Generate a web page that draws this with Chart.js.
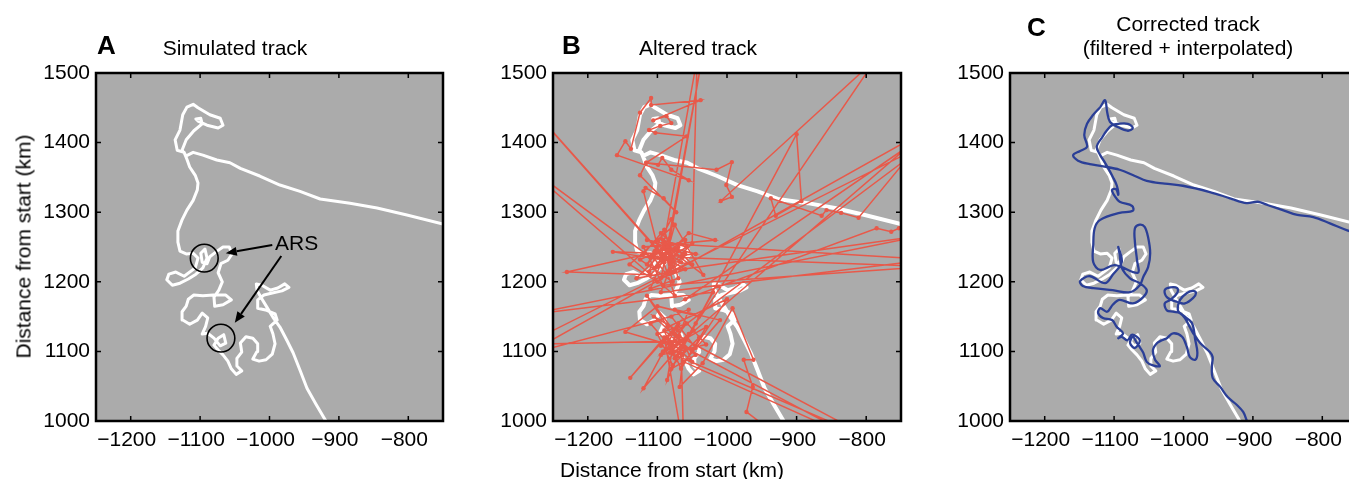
<!DOCTYPE html>
<html>
<head>
<meta charset="utf-8">
<script src="https://cdn.jsdelivr.net/npm/chart.js@4.4.0/dist/chart.umd.min.js"></script>
<style>
html, body { margin: 0; padding: 0; background: #fff; overflow: hidden; }
body { width: 1349px; height: 479px; position: relative; font-family: 'Liberation Sans', Arial, Helvetica, sans-serif; color: #000; }
.panel { position: absolute; top: 0; width: 460px; height: 479px; }
.txt { position: absolute; font-size: 21px; line-height: 21px; white-space: nowrap; text-align: center; }
.letter { position: absolute; font-size: 26px; line-height: 26px; font-weight: bold; }
</style>
</head>
<body>
<div class="panel" style="left:0px"><canvas id="chartA" width="460" height="479"></canvas></div>
<div class="panel" style="left:460px"><canvas id="chartB" width="460" height="479"></canvas></div>
<div class="panel" style="left:920px"><canvas id="chartC" width="460" height="479"></canvas></div>

<div class="letter" style="left:97px;top:32px">A</div>
<div class="txt" style="left:135px;top:37px;width:200px">Simulated track</div>
<div class="letter" style="left:562px;top:32px">B</div>
<div class="txt" style="left:598px;top:37px;width:200px">Altered track</div>
<div class="letter" style="left:1027px;top:14px">C</div>
<div class="txt" style="left:1038px;top:13px;width:300px">Corrected track</div>
<div class="txt" style="left:1038px;top:37px;width:300px">(filtered + interpolated)</div>
<div class="txt" style="left:522px;top:459px;width:300px">Distance from start (km)</div>
<div class="txt" style="left:-127px;top:236px;width:300px;transform:rotate(-90deg)">Distance from start (km)</div>

<script>
// axis ticks (km)
var xTicks = [-1200, -1100, -1000, -900, -800];
var xTickLabels = ['\u22121200', '\u22121100', '\u22121000', '\u2212900', '\u2212800'];
var yTicks = [1000, 1100, 1200, 1300, 1400, 1500];
var yTickLabels = ['1000', '1100', '1200', '1300', '1400', '1500'];

// simulated track (white), km
var trackX = [-914, -933, -946, -956, -966, -975, -985, -995, -1004, -1012, -1018, -1019, -1011, -999, -988, -978, -972, -982, -996, -1008,
  -1017, -1017, -1004, -992, -989, -999, -995, -992, -996, -1005, -1015, -1024, -1018, -1017, -1024, -1034, -1042, -1040, -1047, -1047,
  -1040, -1048, -1055, -1060, -1067, -1074, -1080, -1074, -1066, -1063, -1071, -1080, -1089, -1097, -1092, -1089, -1097, -1104, -1115, -1125,
  -1126, -1120, -1117, -1109, -1096, -1081, -1063, -1055, -1067, -1079, -1080, -1073, -1068, -1074, -1070, -1060, -1054, -1058, -1067, -1077,
  -1086, -1090, -1097, -1099, -1093, -1090, -1096, -1106, -1117, -1129, -1140, -1148, -1145, -1135, -1123, -1107, -1103, -1110, -1120, -1129,
  -1132, -1132, -1126, -1119, -1110, -1104, -1103, -1107, -1115, -1119, -1123, -1133, -1136, -1129, -1125, -1119, -1110, -1103, -1086, -1071,
  -1067, -1074, -1090, -1103, -1106, -1099, -1097, -1109, -1120, -1126, -1120, -1110, -1096, -1076, -1057, -1042, -1014, -985, -956, -927,
  -884, -845, -802, -750, -740];
var trackY = [992, 1024, 1047, 1073, 1098, 1116, 1135, 1149, 1164, 1177, 1188, 1197, 1195, 1188, 1191, 1197, 1192, 1187, 1184, 1181,
  1174, 1162, 1159, 1154, 1145, 1136, 1125, 1111, 1096, 1088, 1086, 1089, 1100, 1111, 1119, 1121, 1112, 1099, 1090, 1079,
  1072, 1067, 1075, 1086, 1095, 1102, 1109, 1119, 1124, 1112, 1108, 1119, 1126, 1125, 1136, 1148, 1155, 1145, 1139, 1145,
  1157, 1165, 1175, 1181, 1180, 1181, 1181, 1174, 1167, 1165, 1178, 1188, 1200, 1213, 1226, 1231, 1240, 1250, 1250, 1243,
  1236, 1226, 1228, 1241, 1247, 1234, 1220, 1211, 1204, 1198, 1195, 1203, 1211, 1214, 1208, 1220, 1234, 1241, 1240, 1244,
  1257, 1273, 1289, 1303, 1317, 1332, 1342, 1353, 1365, 1376, 1386, 1389, 1404, 1418, 1440, 1451, 1455, 1450, 1440, 1435,
  1425, 1421, 1425, 1431, 1434, 1435, 1427, 1417, 1404, 1389, 1381, 1386, 1382, 1375, 1371, 1363, 1352, 1339, 1330, 1319,
  1313, 1306, 1296, 1283, 1281];

// altered track (red), km; points outside the box are the outliers
var alteredX = [-935, -972, -963, -976, -962, -992, -1035, -1068, -1060, -1086, -1075, -780, -1082, -1048, -1120, -1070, -1139, -1090, -1062, -1066,
  -1040, -1100, -1146, -1078,
  -1068, -1080, -1055, -1075, -1090, -1060, -1085, -1050, -1072, -1095, -1065, -1040, -1078, -1100, -1058, -1082, -1066, -1030, -1092, -1070,
  -1055, -1110, -1075, -1045, -1080,
  -1290, -710, -1058, -1095, -1030, -1075, -1010, -1062, -795, -1050, -1000, -1085, -1115, -1065, -1290, -710,
  -1071, -1105, -1045, -1080, -1020, -1290, -710, -1085,
  -1080, -1100, -1072, -1108, -1088, -1066, -1098, -1115, -1083, -1095, -1060, -1104, -1077, -1120, -1090, -1070, -1110, -1085, -1045, -1100,
  -1130, -1075, -1092, -1058, -1112,
  -1100, -1060, -1125, -1078, -1095, -1050, -1164, -1080, -1110, -1230, -1070, -1095,
  -710, -1088, -1115, -1060, -1100, -1140, -1075, -1090, -1036, -1085, -1105, -1055, -1017, -1120, -1092, -710, -1065, -1100, -1034, -1080,
  -1110, -1305, -1075, -1095, -1290, -1080, -1050, -1043, -1095, -1120, -1117, -1091, -1073, -1125, -1116, -1099, -1093, -1080, -1055, -1158,
  -1146, -1138, -1125, -1109, -1109, -1038, -1106, -1087, -1080, -1096, -1112, -1103, -1058, -1116, -1015, -993, -1001, -993, -1009, -786,
  -1045, -900, -893, -930, -937, -864, -857, -836, -811, -710, -1060, -785, -764, -753, -700];
var alteredY = [985, 1013, 1049, 1088, 1088, 1162, 1083, 1049, 1118, 1059, 1125, 968, 1098, 1130, 1047, 1140, 1062, 1120, 958, 1105,
  1150, 1165, 1128, 1108,
  1115, 1100, 1125, 1090, 1130, 1105, 1118, 1085, 1135, 1108, 1095, 1120, 1080, 1125, 1140, 1110, 1075, 1135, 1100, 1120,
  1160, 1140, 1100, 1105, 1150,
  1095, 1420, 1120, 1095, 1110, 1160, 1145, 1085, 965, 1100, 1175, 1135, 1180, 1115, 1110, 1400,
  1130, 1150, 1095, 1075, 1185, 1152, 1268, 1215,
  1235, 1222, 1246, 1238, 1212, 1228, 1252, 1225, 1262, 1205, 1218, 1244, 1230, 1240, 1275, 1205, 1190, 1250, 1240, 1235,
  1205, 1215, 1260, 1250, 1215,
  1245, 1260, 1232, 1200, 1270, 1225, 1243, 1240, 1210, 1214, 1250, 1185,
  1232, 1255, 1260, 1240, 1200, 1225, 1282, 1228, 1520, 1245, 1220, 1270, 1260, 1250, 1195, 1222, 1235, 1260, 1210, 1290,
  1235, 1379, 1180, 1240, 1460, 1225, 1255, 1520, 1232, 1330, 1335, 1320, 1300, 1353, 1371, 1368, 1378, 1361, 1346, 1382,
  1402, 1391, 1443, 1464, 1454, 1461, 1432, 1438, 1428, 1424, 1418, 1414, 1409, 1371, 1361, 1372, 1339, 1322, 1316, 1520,
  1140, 1412, 1316, 1295, 1320, 1295, 1303, 1299, 1292, 1415, 1175, 1277, 1272, 1277, 1275];

// corrected track (blue), km
var correctedX = [-904, -909, -914, -923, -936, -947, -958, -959, -958, -962, -976, -986, -991, -998, -1005, -1015, -1024, -1027, -1019, -1009,
  -1009, -1019, -1027, -1024, -1009, -998, -986, -982, -986, -995, -1005, -1008, -1001, -988, -983, -980, -983, -991, -995, -1002,
  -1015, -1024, -1031, -1038, -1044, -1041, -1034, -1044, -1053, -1058, -1063, -1067, -1073, -1077, -1070, -1063, -1074, -1081, -1089, -1094,
  -1087, -1096, -1103, -1116, -1123, -1120, -1110, -1102, -1092, -1073, -1058, -1053, -1063, -1077, -1089, -1092, -1094, -1089, -1102, -1113,
  -1135, -1149, -1145, -1130, -1102, -1077, -1063, -1058, -1051, -1048, -1051, -1056, -1063, -1070, -1070, -1067, -1066, -1099, -1120, -1130,
  -1130, -1128, -1120, -1092, -1073, -1074, -1092, -1099, -1103, -1097, -1094, -1096, -1102, -1109, -1113, -1120, -1125, -1117, -1110, -1103,
  -1094, -1080, -1073, -1080, -1094, -1106, -1110, -1113, -1120, -1130, -1139, -1143, -1139, -1149, -1159, -1152, -1135, -1116, -1092, -1070,
  -1053, -1027, -1001, -962, -933, -909, -893, -878, -857, -836, -813, -789, -764, -738];
var correctedY = [990, 1001, 1013, 1023, 1034, 1049, 1062, 1080, 1092, 1099, 1112, 1126, 1135, 1148, 1155, 1157, 1159, 1169, 1174, 1184,
  1191, 1192, 1188, 1178, 1171, 1169, 1177, 1184, 1187, 1184, 1174, 1159, 1152, 1141, 1116, 1098, 1088, 1092, 1106, 1121,
  1126, 1119, 1116, 1112, 1102, 1088, 1079, 1080, 1085, 1098, 1106, 1112, 1121, 1112, 1105, 1116, 1124, 1116, 1121, 1119,
  1126, 1135, 1145, 1148, 1155, 1162, 1157, 1167, 1174, 1169, 1178, 1188, 1198, 1205, 1220, 1239, 1250, 1228, 1210, 1198,
  1208, 1201, 1194, 1191, 1188, 1185, 1195, 1207, 1221, 1241, 1264, 1279, 1282, 1277, 1257, 1231, 1213, 1224, 1217, 1228,
  1253, 1277, 1289, 1299, 1302, 1309, 1315, 1323, 1332, 1333, 1325, 1338, 1351, 1364, 1371, 1382, 1394, 1408, 1418, 1425,
  1427, 1427, 1421, 1417, 1422, 1430, 1444, 1461, 1451, 1440, 1427, 1411, 1394, 1388, 1382, 1374, 1369, 1366, 1361, 1352,
  1345, 1341, 1338, 1329, 1320, 1313, 1315, 1310, 1303, 1296, 1293, 1284, 1274, 1266];

// ARS annotation in panel A (km)
var arsCircleX = [-1094, -1070];
var arsCircleY = [1234, 1119];
var arsArrows = [[-996, 1253, -1063, 1241], [-983, 1237, -1050, 1141]];

var FONT = "'Liberation Sans', Arial, Helvetica, sans-serif";

function pts(xs, ys) {
  return xs.map(function (x, i) { return { x: x, y: ys[i] }; });
}

var framePlugin = {
  id: 'frame',
  beforeDraw: function (chart) {
    var a = chart.chartArea, c = chart.ctx;
    c.save();
    c.fillStyle = '#ababab';
    c.fillRect(a.left, a.top, a.right - a.left, a.bottom - a.top);
    c.restore();
  },
  afterDraw: function (chart) {
    var a = chart.chartArea, c = chart.ctx;
    var sx = chart.scales.x, sy = chart.scales.y;
    c.save();
    c.strokeStyle = '#000';
    c.lineWidth = 1.5;
    c.beginPath();
    xTicks.forEach(function (v) {
      var p = sx.getPixelForValue(v);
      c.moveTo(p, a.bottom); c.lineTo(p, a.bottom - 5);
      c.moveTo(p, a.top); c.lineTo(p, a.top + 5);
    });
    yTicks.forEach(function (v) {
      var p = sy.getPixelForValue(v);
      c.moveTo(a.left, p); c.lineTo(a.left + 5, p);
      c.moveTo(a.right, p); c.lineTo(a.right - 5, p);
    });
    c.stroke();
    c.lineWidth = 2.5;
    c.strokeRect(a.left, a.top, a.right - a.left, a.bottom - a.top);
    c.restore();
  }
};

var arsPlugin = {
  id: 'ars',
  afterDatasetsDraw: function (chart) {
    var c = chart.ctx, sx = chart.scales.x, sy = chart.scales.y;
    c.save();
    c.strokeStyle = '#000';
    c.fillStyle = '#000';
    c.lineWidth = 1.6;
    arsCircleX.forEach(function (x, i) {
      var cx = sx.getPixelForValue(x), cy = sy.getPixelForValue(arsCircleY[i]);
      var r = sx.getPixelForValue(x + 20) - cx;
      c.beginPath(); c.arc(cx, cy, r, 0, Math.PI * 2); c.stroke();
    });
    c.lineWidth = 2;
    arsArrows.forEach(function (ar) {
      var x0 = sx.getPixelForValue(ar[0]), y0 = sy.getPixelForValue(ar[1]);
      var x1 = sx.getPixelForValue(ar[2]), y1 = sy.getPixelForValue(ar[3]);
      var ang = Math.atan2(y1 - y0, x1 - x0), L = 11, W = 4.5;
      var bx = x1 - L * Math.cos(ang), by = y1 - L * Math.sin(ang);
      c.beginPath(); c.moveTo(x0, y0); c.lineTo(bx, by); c.stroke();
      c.beginPath();
      c.moveTo(x1, y1);
      c.lineTo(bx + W * Math.sin(ang), by - W * Math.cos(ang));
      c.lineTo(bx - W * Math.sin(ang), by + W * Math.cos(ang));
      c.closePath(); c.fill();
    });
    c.font = '21px ' + FONT;
    c.textBaseline = 'alphabetic';
    c.textAlign = 'left';
    c.fillText('ARS', sx.getPixelForValue(-992), sy.getPixelForValue(1246));
    c.restore();
  }
};

function makePanel(id, axisWidth, padRight, datasets, extra) {
  var plugins = [framePlugin];
  if (extra) plugins.push(extra);
  return new Chart(document.getElementById(id), {
    type: 'scatter',
    data: { datasets: datasets },
    options: {
      responsive: false,
      animation: false,
      events: [],
      layout: { padding: { top: 73, right: padRight, left: 0, bottom: 0 } },
      plugins: { legend: { display: false }, tooltip: { enabled: false } },
      scales: {
        x: {
          type: 'linear', min: -1250, max: -750,
          afterBuildTicks: function (s) { s.ticks = xTicks.map(function (v) { return { value: v }; }); },
          afterFit: function (s) { s.height = 58; },
          grid: { display: false, drawTicks: false },
          border: { display: false },
          ticks: {
            color: '#000', font: { family: FONT, size: 21 }, padding: 7, labelOffset: -4,
            maxRotation: 0, autoSkip: false,
            callback: function (v, i) { return xTickLabels[i]; }
          }
        },
        y: {
          type: 'linear', min: 1000, max: 1500,
          afterBuildTicks: function (s) { s.ticks = yTicks.map(function (v) { return { value: v }; }); },
          afterFit: function (s) { s.width = axisWidth; },
          grid: { display: false, drawTicks: false },
          border: { display: false },
          ticks: {
            color: '#000', font: { family: FONT, size: 21 }, padding: 6, autoSkip: false,
            callback: function (v, i) { return yTickLabels[i]; }
          }
        }
      }
    },
    plugins: plugins
  });
}

// higher order = drawn underneath
function whiteSet(w) {
  return { data: pts(trackX, trackY), order: 2, showLine: true, borderColor: '#ffffff', borderWidth: w,
    pointRadius: 0, fill: false, clip: 0, borderJoinStyle: 'round', borderCapStyle: 'round' };
}

makePanel('chartA', 96, 17, [whiteSet(3)], arsPlugin);

makePanel('chartB', 93, 19, [
  whiteSet(4),
  { data: pts(alteredX, alteredY), order: 1, showLine: true, borderColor: '#e8594a', borderWidth: 1.5,
    pointRadius: 2.2, pointBackgroundColor: '#e8594a', pointBorderWidth: 0, fill: false, clip: 0 }
]);

makePanel('chartC', 90, 23, [
  whiteSet(3),
  { data: pts(correctedX, correctedY), order: 1, showLine: true, borderColor: '#2b3f97', borderWidth: 2.3,
    pointRadius: 0, tension: 0.35, fill: false, clip: 0, borderJoinStyle: 'round' }
]);
</script>
</body>
</html>
